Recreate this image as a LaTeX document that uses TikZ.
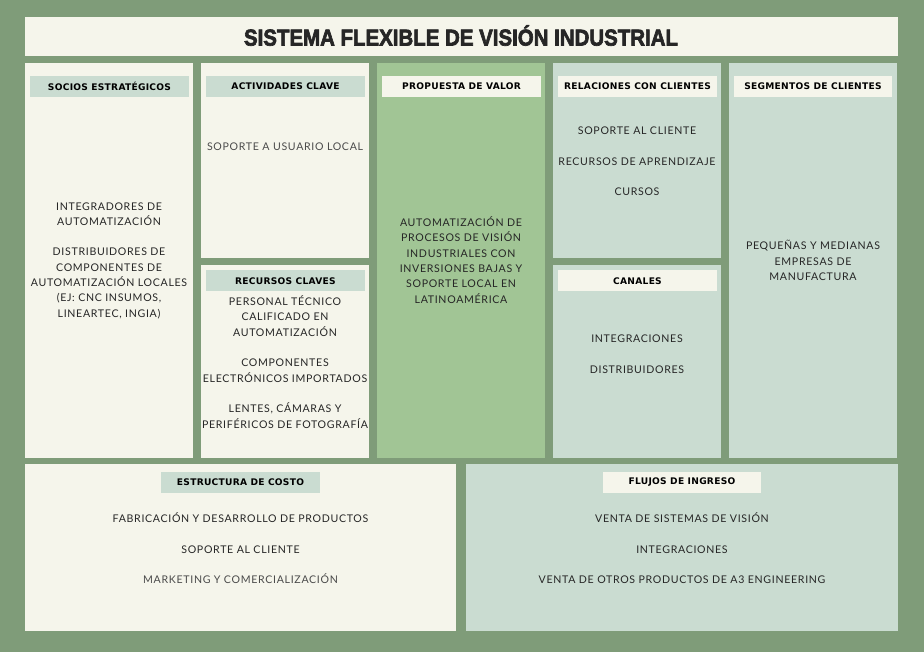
\documentclass[tikz,border=0pt]{standalone}
\usepackage{fontspec}
\usepackage{graphicx}
\newfontfamily\bodyfont[LetterSpace=6.5]{Lato}
\newfontfamily\headfont[LetterSpace=3]{DejaVu Sans}
\newfontfamily\titlefont[FakeBold=3]{Liberation Sans}
\definecolor{bgc}{HTML}{7F9C79}
\definecolor{cream}{HTML}{F5F5EB}
\definecolor{sage}{HTML}{CADCD1}
\definecolor{leaf}{HTML}{A1C595}
\definecolor{ink}{HTML}{262626}
\definecolor{ink2}{HTML}{4A4A4A}
\tikzset{
  box/.style={inner sep=0pt, outer sep=0pt, anchor=north west},
  hdr/.style={inner sep=0pt, outer sep=0pt, anchor=north west, minimum height=21pt,
    font=\headfont\bfseries\fontsize{9.1}{10}\selectfont, text=black},
  body/.style={inner sep=0pt, outer sep=0pt, align=center, text=ink,
    font=\bodyfont\fontsize{10.6}{15.3}\selectfont},
}
\begin{document}
\begin{tikzpicture}[x=1pt,y=-1pt]
\useasboundingbox (0,0) rectangle (924,652);
\fill[bgc] (0,0) rectangle (924,652);
% title
\node[box, fill=cream, minimum width=873pt, minimum height=39pt] (title) at (25,17) {};
\node[text=ink, inner sep=0pt] (titletext) at (461,35.5)
  {\resizebox{434pt}{\height}{\titlefont\bfseries\fontsize{23}{24}\selectfont SISTEMA FLEXIBLE DE VISIÓN INDUSTRIAL}};
% boxes
\node[box, fill=cream, minimum width=168pt, minimum height=395pt] (socios) at (25,63) {};
\node[box, fill=cream, minimum width=168pt, minimum height=195pt] (activ) at (201,63) {};
\node[box, fill=cream, minimum width=168pt, minimum height=193pt] (recur) at (201,265) {};
\node[box, fill=leaf, minimum width=168pt, minimum height=395pt] (prop) at (377,63) {};
\node[box, fill=sage, minimum width=168pt, minimum height=195pt] (relac) at (553,63) {};
\node[box, fill=sage, minimum width=168pt, minimum height=193pt] (canal) at (553,265) {};
\node[box, fill=sage, minimum width=168pt, minimum height=395pt] (segm) at (729,63) {};
\node[box, fill=cream, minimum width=431pt, minimum height=167pt] (estr) at (25,464) {};
\node[box, fill=sage, minimum width=432pt, minimum height=167pt] (fluj) at (466,464) {};
% headers
\node[hdr, fill=sage, minimum width=159pt] (hsocios) at (30,76) {SOCIOS ESTRATÉGICOS};
\node[hdr, fill=sage, minimum width=159pt] (hactiv) at (206,76) {ACTIVIDADES CLAVE};
\node[hdr, fill=sage, minimum width=159pt] (hrecur) at (206,270.5) {RECURSOS CLAVES};
\node[hdr, fill=cream, minimum width=159pt] (hprop) at (382,76) {PROPUESTA DE VALOR};
\node[hdr, fill=cream, minimum width=159pt] (hrelac) at (558,76) {RELACIONES CON CLIENTES};
\node[hdr, fill=cream, minimum width=159pt] (hcanal) at (558,270.5) {CANALES};
\node[hdr, fill=cream, minimum width=158pt] (hsegm) at (734,76) {SEGMENTOS DE CLIENTES};
\node[hdr, fill=sage, minimum width=159pt] (hestr) at (161,471.5) {ESTRUCTURA DE COSTO};
\node[hdr, fill=cream, minimum width=158pt] (hfluj) at (603,471.5) {FLUJOS DE INGRESO};
% contents
\node[body] (tsocios) at (109,260.5) {INTEGRADORES DE\\AUTOMATIZACIÓN\\[15.3pt]DISTRIBUIDORES DE\\COMPONENTES DE\\AUTOMATIZACIÓN LOCALES\\(EJ: CNC INSUMOS,\\LINEARTEC, INGIA)};
\node[body, text=ink2] (tactiv) at (285,147) {SOPORTE A USUARIO LOCAL};
\node[body] (trecur) at (285,362) {PERSONAL TÉCNICO\\CALIFICADO EN\\AUTOMATIZACIÓN\\[15.3pt]COMPONENTES\\ELECTRÓNICOS IMPORTADOS\\[15.3pt]LENTES, CÁMARAS Y\\PERIFÉRICOS DE FOTOGRAFÍA};
\node[body] (tprop) at (461,260) {AUTOMATIZACIÓN DE\\PROCESOS DE VISIÓN\\INDUSTRIALES CON\\INVERSIONES BAJAS Y\\SOPORTE LOCAL EN\\LATINOAMÉRICA};
\node[body] (trelac) at (637,161.5) {SOPORTE AL CLIENTE\\[15.3pt]RECURSOS DE APRENDIZAJE\\[15.3pt]CURSOS};
\node[body] (tcanal) at (637,354) {INTEGRACIONES\\[15.3pt]DISTRIBUIDORES};
\node[body] (tsegm) at (813,260.5) {PEQUEÑAS Y MEDIANAS\\EMPRESAS DE\\MANUFACTURA};
\node[body] (testr) at (240.5,548.5) {FABRICACIÓN Y DESARROLLO DE PRODUCTOS\\[15.3pt]SOPORTE AL CLIENTE\\[15.3pt]\textcolor{ink2}{MARKETING Y COMERCIALIZACIÓN}};
\node[body] (tfluj) at (682,548.5) {VENTA DE SISTEMAS DE VISIÓN\\[15.3pt]INTEGRACIONES\\[15.3pt]VENTA DE OTROS PRODUCTOS DE A3 ENGINEERING};
\end{tikzpicture}
\end{document}
